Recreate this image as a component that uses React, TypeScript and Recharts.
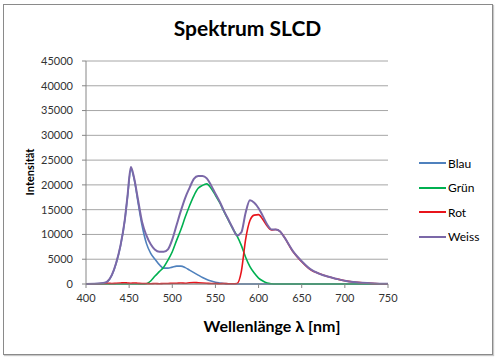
import React from 'react';
import { LineChart, Line, XAxis, YAxis, CartesianGrid } from 'recharts';

// wavelengths in nm (denser around the sharp peaks)
const wavelengths = [
  400, 410, 420, 425, 430, 435, 440, 445, 448, 452, 456, 460, 465, 470, 475, 480, 485, 490, 495, 500,
  505, 510, 515, 520, 525, 530, 535, 540, 545, 550, 555, 560, 565, 570, 575, 580, 585, 590, 595, 600,
  605, 610, 615, 620, 625, 630, 640, 650, 660, 670, 680, 690, 700, 710, 720, 730, 740, 750,
];

const blau = [
  0, 30, 150, 500, 1800, 4200, 7700, 12900, 17400, 23100, 21000, 16800, 11800, 8200, 6200, 5000, 3900, 3200, 3200, 3400,
  3600, 3600, 3300, 2800, 2300, 1800, 1300, 900, 600, 350, 200, 80, 30, 10, 0, 0, 0, 0, 0, 0,
  0, 0, 0, 0, 0, 0, 0, 0, 0, 0, 0, 0, 0, 0, 0, 0, 0, 0,
];

const gruen = [
  0, 0, 0, 0, 0, 0, 0, 0, 0, 0, 0, 0, 0, 50, 600, 1600, 2500, 3400, 4800, 6500,
  8800, 11000, 13500, 15800, 17800, 19300, 19900, 20200, 19300, 17900, 16400, 14600, 12900, 11200, 9700, 7800, 5400, 3500, 2200, 1200,
  600, 200, 50, 0, 0, 0, 0, 0, 0, 0, 0, 0, 0, 0, 0, 0, 0, 0,
];

const rot = [
  0, 50, 100, 150, 100, 150, 200, 250, 200, 150, 200, 150, 100, 100, 50, 100, 50, 100, 100, 150,
  150, 200, 150, 250, 300, 250, 200, 150, 100, 100, 50, 100, 50, 50, 100, 2500, 9000, 12800, 13900, 14000,
  13000, 11700, 10900, 11000, 10600, 9400, 6500, 4500, 2900, 2100, 1500, 1050, 650, 400, 250, 130, 60, 30,
];

const weiss = [
  0, 30, 200, 550, 1850, 4300, 7800, 13000, 17600, 23600, 21200, 17300, 12500, 9800, 8000, 6900, 6500, 6500, 7000, 9000,
  11900, 14800, 17400, 19400, 21200, 21800, 21800, 21300, 19900, 18200, 16600, 14700, 13000, 11300, 9800, 10400, 14400, 16900, 16400, 15300,
  13700, 12000, 11000, 11000, 10600, 9400, 6600, 4600, 3000, 2100, 1500, 1050, 650, 400, 250, 130, 60, 30,
];

const xTicks = [400, 450, 500, 550, 600, 650, 700, 750];
const yTicks = [0, 5000, 10000, 15000, 20000, 25000, 30000, 35000, 40000, 45000];

const series = [
  { key: 'Blau', color: '#4f81bd' },
  { key: 'Grün', color: '#00b050' },
  { key: 'Rot', color: '#e8141b' },
  { key: 'Weiss', color: '#7b68a8' },
];

const data = wavelengths.map((wl, i) => ({
  wl,
  Blau: blau[i],
  'Grün': gruen[i],
  Rot: rot[i],
  Weiss: weiss[i],
}));

const font = 'Lato, "Open Sans", sans-serif';

export default function App() {
  return (
    <div style={{ position: 'absolute', left: 0, top: 0, width: 495, height: 360, background: '#fff' }}>
      <div
        style={{
          position: 'absolute', left: 3, top: 4, width: 488, height: 349,
          border: '1px solid #8a8a8a', boxShadow: '1px 1px 1px #c8c8c8',
        }}
      />
      <div
        style={{
          position: 'absolute', left: 0, top: 15, width: 495, textAlign: 'center',
          fontFamily: font, fontWeight: 'bold', fontSize: 21, color: '#000',
        }}
      >
        Spektrum SLCD
      </div>
      <div
        style={{
          position: 'absolute', left: 122, top: 316, width: 300, textAlign: 'center',
          fontFamily: font, fontWeight: 'bold', fontSize: 16, color: '#000',
        }}
      >
        Wellenlänge λ [nm]
      </div>
      <div
        style={{
          position: 'absolute', left: 30, top: 172, width: 100, marginLeft: -50, marginTop: -8,
          textAlign: 'center', transform: 'rotate(-90deg)',
          fontFamily: font, fontWeight: 'bold', fontSize: 11, color: '#000', lineHeight: '16px',
        }}
      >
        Intensität
      </div>
      {/* legend, drawn by hand so it does not take room from the plot */}
      <div style={{ position: 'absolute', left: 419, top: 151, fontFamily: font, fontSize: 12, color: '#000' }}>
        {series.map((s) => (
          <div key={s.key} style={{ display: 'flex', alignItems: 'center', height: 24.5 }}>
            <div style={{ width: 27, height: 2, background: s.color, marginRight: 2 }} />
            <span>{s.key}</span>
          </div>
        ))}
      </div>
      <LineChart
        width={495}
        height={360}
        data={data}
        margin={{ top: 61, right: 107, bottom: 0, left: 0 }}
        style={{ position: 'absolute', left: 0, top: 0 }}
      >
        <CartesianGrid vertical={false} stroke="#a6a6a6" />
        <XAxis
          dataKey="wl"
          type="number"
          domain={[400, 750]}
          ticks={xTicks}
          interval={0}
          height={76}
          tickSize={4}
          tickMargin={6}
          stroke="#868686"
          tick={{ fill: '#333', fontSize: 11, fontFamily: font }}
        />
        <YAxis
          type="number"
          domain={[0, 45000]}
          ticks={yTicks}
          interval={0}
          width={86}
          tickSize={4}
          tickMargin={9}
          stroke="#868686"
          tick={{ fill: '#333', fontSize: 11, fontFamily: font }}
        />
        {series.map((s) => (
          <Line
            key={s.key}
            dataKey={s.key}
            type="monotone"
            stroke={s.color}
            strokeWidth={s.key === 'Weiss' ? 2 : 1.6}
            dot={false}
            isAnimationActive={false}
          />
        ))}
      </LineChart>
    </div>
  );
}
